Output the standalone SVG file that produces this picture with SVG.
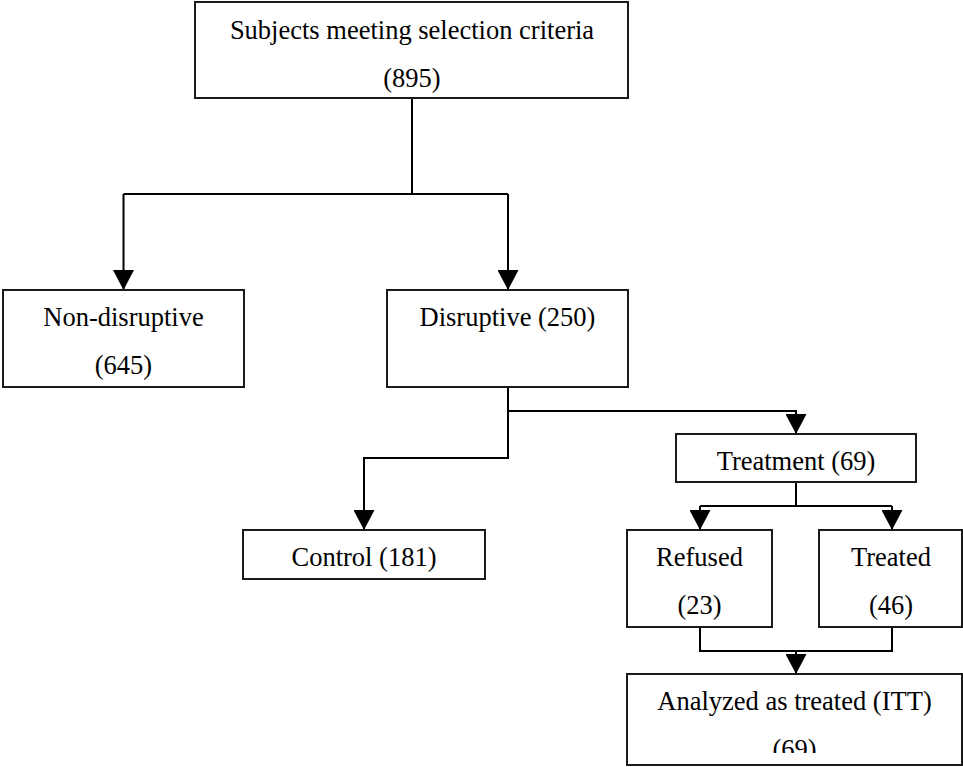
<svg xmlns="http://www.w3.org/2000/svg" width="963" height="767" viewBox="0 0 963 767">
<style>
.box{fill:#fff;stroke:#1a1a1a;stroke-width:2}
.lbl{font-family:"Liberation Serif","Times New Roman",serif;font-size:26.5px;fill:#000;text-anchor:middle}
.con{fill:none;stroke:#000;stroke-width:2}
</style>
<defs>
<marker id="arr" markerUnits="userSpaceOnUse" markerWidth="20" markerHeight="21" refX="20" refY="10.5" orient="auto" viewBox="0 0 20 21">
<path d="M0,0 L20,10.5 L0,21 Z" fill="#000"/>
</marker>
<clipPath id="clipA"><rect x="627" y="674" width="336" height="79"/></clipPath>
</defs>
<rect width="963" height="767" fill="#fff"/>
<g id="connectors">
<path class="con" d="M412,98 V194"/>
<path class="con" d="M123.5,194 H508"/>
<path class="con" d="M123.5,194 V290" marker-end="url(#arr)"/>
<path class="con" d="M508,194 V290" marker-end="url(#arr)"/>
<path class="con" d="M508,387 V458 H364 V530" marker-end="url(#arr)"/>
<path class="con" d="M508,411 H796 V434" marker-end="url(#arr)"/>
<path class="con" d="M796,482 V506"/>
<path class="con" d="M700,506 H892"/>
<path class="con" d="M700,506 V530" marker-end="url(#arr)"/>
<path class="con" d="M892,506 V530" marker-end="url(#arr)"/>
<path class="con" d="M700,627 V651 H892 V627"/>
<path class="con" d="M796,651 V674" marker-end="url(#arr)"/>
</g>
<g id="subjects">
<rect class="box" x="195" y="2" width="433" height="96"/>
<text class="lbl" x="412" y="39">Subjects meeting selection criteria</text>
<text class="lbl" x="412" y="87">(895)</text>
</g>
<g id="nondisruptive">
<rect class="box" x="3" y="290" width="241" height="97"/>
<text class="lbl" x="123.5" y="326">Non-disruptive</text>
<text class="lbl" x="123.5" y="374">(645)</text>
</g>
<g id="disruptive">
<rect class="box" x="387" y="290" width="241" height="97"/>
<text class="lbl" x="507.5" y="326">Disruptive (250)</text>
</g>
<g id="control">
<rect class="box" x="243" y="530" width="242" height="49"/>
<text class="lbl" x="364" y="566">Control (181)</text>
</g>
<g id="treatment">
<rect class="box" x="676" y="434" width="240" height="48"/>
<text class="lbl" x="796" y="470">Treatment (69)</text>
</g>
<g id="refused">
<rect class="box" x="627" y="530" width="145" height="97"/>
<text class="lbl" x="699.5" y="566">Refused</text>
<text class="lbl" x="699.5" y="614">(23)</text>
</g>
<g id="treated">
<rect class="box" x="819" y="530" width="143" height="97"/>
<text class="lbl" x="891" y="566">Treated</text>
<text class="lbl" x="891" y="614">(46)</text>
</g>
<g id="analyzed">
<rect class="box" x="627" y="674" width="335" height="91"/>
<g clip-path="url(#clipA)">
<text class="lbl" x="794.5" y="710">Analyzed as treated (ITT)</text>
<text class="lbl" x="794.5" y="758">(69)</text>
</g>
</g>
</svg>
